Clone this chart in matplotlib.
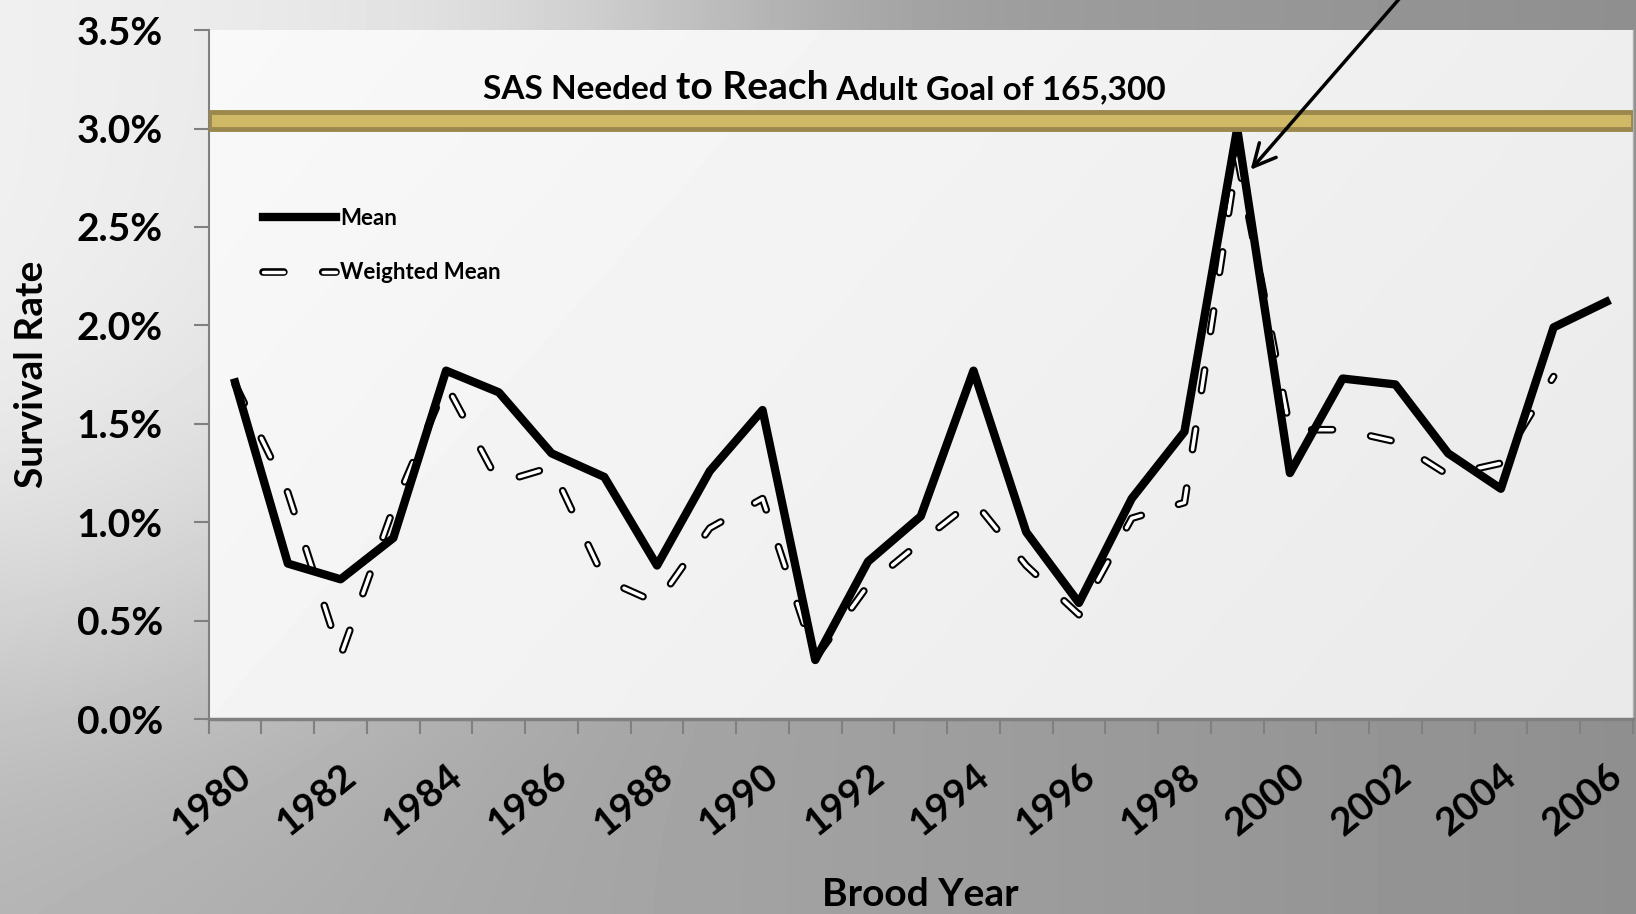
import numpy as np
import matplotlib
matplotlib.use('Agg')
import matplotlib.pyplot as plt
from matplotlib.patches import Rectangle
from matplotlib.ticker import FixedLocator, FuncFormatter
from matplotlib.legend_handler import HandlerTuple

plt.rcParams['font.family'] = ['Lato', 'DejaVu Sans']
plt.rcParams['font.weight'] = 'bold'
plt.rcParams['axes.labelweight'] = 'bold'
plt.rcParams['lines.scale_dashes'] = False

# survival rates (%) by brood year
years = list(range(1980, 2007))
mean = [1.71, 0.79, 0.71, 0.92, 1.77, 1.66, 1.35, 1.23, 0.78, 1.26, 1.57, 0.30, 0.80, 1.03,
        1.77, 0.95, 0.59, 1.12, 1.46, 3.00, 1.25, 1.73, 1.70, 1.35, 1.17, 1.99, 2.12]
weighted = [1.70, 1.15, 0.32, 1.07, 1.70, 1.20, 1.28, 0.71, 0.59, 0.97, 1.12, 0.31, 0.68, 0.90,
            1.11, 0.78, 0.53, 1.02, 1.10, 2.86, 1.47, 1.47, 1.41, 1.24, 1.30, 1.74, np.nan]
goal_low, goal_high = 3.0, 3.085
year_labels = list(range(1980, 2007, 2))

fig = plt.figure(figsize=(16.36, 9.14), dpi=100)

# grey gradient background for the whole slide (light top-left, dark right)
bg = fig.add_axes([0, 0, 1, 1], zorder=-10)
gx, gy = np.meshgrid(np.linspace(0, 1, 400), np.linspace(0, 1, 250))
v = 0.70 - 0.14 * gx + 0.24 * np.exp(-((gx / 0.45) ** 2 + (gy / 0.75) ** 2) ** 2)
bg.imshow(v, cmap='gray', vmin=0, vmax=1, aspect='auto', extent=[0, 1, 1, 0], interpolation='bilinear')
bg.set_xlim(0, 1)
bg.set_ylim(1, 0)
bg.axis('off')

ax = fig.add_axes([0.1276, 0.2133, 0.8704, 0.7537])
ax.set_facecolor('none')
px, py = np.meshgrid(np.linspace(0, 1, 200), np.linspace(0, 1, 100))
pv = 0.975 - 0.06 * (0.7 * px + 0.3 * py)
ax.imshow(pv, cmap='gray', vmin=0, vmax=1, aspect='auto', extent=[0, 1, 0, 1],
          transform=ax.transAxes, zorder=0, interpolation='bilinear')

mean_line, = ax.plot(years, mean, color='black', lw=6, solid_joinstyle='round', zorder=3)
w_out, = ax.plot(years, weighted, color='black', lw=5.5, dashes=(15, 28),
                 dash_capstyle='round', zorder=2)
w_in, = ax.plot(years, weighted, color='white', lw=2.5, dashes=(15, 28),
                dash_capstyle='round', zorder=2.1)

ax.add_patch(Rectangle((1979.5, goal_low), 27, goal_high - goal_low, facecolor='#cfb966',
                       edgecolor='#9b884c', lw=3.5, zorder=4))

# goal caption, "to Reach" set larger
x0, y0 = 0.1926, 0.900
parts = [('SAS Needed ', 24), ('to Reach', 28), (' Adult Goal of 165,300', 24)]
fig.canvas.draw()
for txt, size in parts:
    t = ax.text(x0, y0, txt, transform=ax.transAxes, fontsize=size, ha='left', va='baseline',
                zorder=5)
    bb = t.get_window_extent(renderer=fig.canvas.get_renderer())
    x0 = ax.transAxes.inverted().transform((bb.x1, bb.y0))[0]

ax.annotate('', xy=(1999.22, 2.78), xytext=(2002.4, 3.76),
            arrowprops=dict(arrowstyle='->', color='black', lw=2.5, mutation_scale=40),
            annotation_clip=False, zorder=6)

ax.set_xlim(1979.5, 2006.5)
ax.set_ylim(0, 3.5)
ax.set_yticks(np.arange(0, 3.51, 0.5))
ax.yaxis.set_major_formatter(FuncFormatter(lambda y, p: '%.1f%%' % y))
ax.set_xticks(year_labels)
ax.set_xticklabels([str(y) for y in year_labels], rotation=39, ha='right', va='top',
                   rotation_mode='anchor')
ax.xaxis.set_minor_locator(FixedLocator(np.arange(1979.5, 2007, 1)))
ax.tick_params(axis='x', which='major', length=0, pad=28, labelsize=28)
ax.tick_params(axis='x', which='minor', length=11, width=1.5, color='#808080', direction='out')
ax.tick_params(axis='y', length=11, width=1.5, color='#808080', pad=22, labelsize=28)

ax.spines['top'].set_visible(False)
ax.spines['right'].set_color('#b0b0b0')
ax.spines['right'].set_linewidth(1)
ax.spines['left'].set_color('#808080')
ax.spines['left'].set_linewidth(1.5)
ax.spines['bottom'].set_color('#808080')
ax.spines['bottom'].set_linewidth(2.5)

ax.set_ylabel('Survival Rate', fontsize=28)
ax.yaxis.set_label_coords(-0.1248, 0.5)
ax.yaxis.label.set_va('center')
ax.set_xlabel('Brood Year', fontsize=28)
ax.xaxis.set_label_coords(0.5, -0.255)
ax.xaxis.label.set_va('center')

ax.legend([mean_line, (w_out, w_in)], ['Mean', 'Weighted Mean'],
          handler_map={tuple: HandlerTuple(ndivide=1, pad=0)},
          loc='center left', bbox_to_anchor=(0.03, 0.687), frameon=False, fontsize=16,
          handlelength=3.3, handletextpad=0.2, labelspacing=1.5, borderpad=0)

fig.savefig('out.png', dpi=100)
